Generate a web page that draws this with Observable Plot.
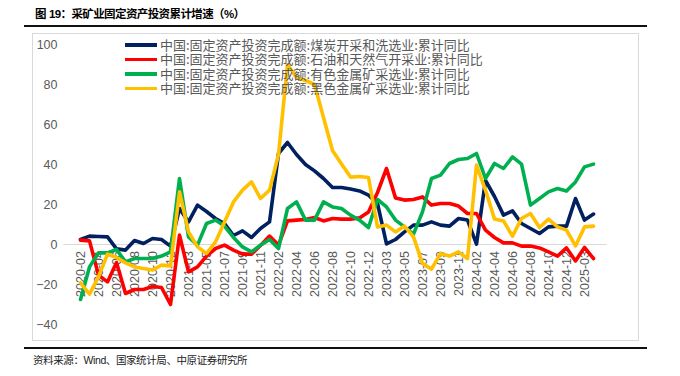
<!DOCTYPE html>
<html><head><meta charset="utf-8">
<script src="https://cdn.jsdelivr.net/npm/d3@7"></script>
<script src="https://cdn.jsdelivr.net/npm/@observablehq/plot@0.6"></script>
<style>
body{margin:0;background:#fff;width:680px;height:376px;position:relative;overflow:hidden;font-family:"Liberation Sans","Noto Sans CJK SC",sans-serif;}
#title{position:absolute;left:35px;top:6px;font-size:11.5px;letter-spacing:-0.6px;font-weight:bold;color:#000;white-space:nowrap;line-height:16px;}
.rule{position:absolute;left:24px;width:623px;height:2px;background:#111;}
#frame{position:absolute;left:32px;top:33px;width:605px;height:306px;border:1px solid #d9d9d9;}
#chart{position:absolute;left:32px;top:33px;}
#legend{position:absolute;left:125px;top:37.5px;font-family:"Noto Sans CJK SC",sans-serif;font-size:13px;color:#595959;}
.row{display:flex;align-items:center;height:14.6px;white-space:nowrap;}
.sw{width:32px;height:3.5px;margin-right:3px;flex:none;}
.tx{display:inline-block;height:14.6px;line-height:14.6px;overflow:visible;}
#source{position:absolute;left:33px;top:353px;font-size:10.5px;letter-spacing:-0.4px;color:#222;white-space:nowrap;line-height:15px;}
</style></head><body>
<div id="title">图<span style="margin-left:3px">19</span>：采矿业固定资产投资累计增速（%）</div>
<div class="rule" style="top:25px"></div>
<div id="frame"></div>
<div id="chart"></div>
<div id="legend"></div>
<div class="rule" style="top:347px"></div>
<div id="source">资料来源：Wind、国家统计局、中原证券研究所</div>
<script>
const dates = [
"2020-02","2020-03","2020-04","2020-05","2020-06","2020-07","2020-08","2020-09","2020-10","2020-11","2020-12",
"2021-02","2021-03","2021-04","2021-05","2021-06","2021-07","2021-08","2021-09","2021-10","2021-11","2021-12",
"2022-02","2022-03","2022-04","2022-05","2022-06","2022-07","2022-08","2022-09","2022-10","2022-11","2022-12",
"2023-02","2023-03","2023-04","2023-05","2023-06","2023-07","2023-08","2023-09","2023-10","2023-11","2023-12",
"2024-02","2024-03","2024-04","2024-05","2024-06","2024-07","2024-08","2024-09","2024-10","2024-11","2024-12",
"2025-02","2025-03","2025-04"];
const xTickLabels = ["2020-02","2020-04","2020-06","2020-08","2020-10","2020-12","2021-03","2021-05","2021-07","2021-09","2021-11",
"2022-02","2022-04","2022-06","2022-08","2022-10","2022-12","2023-03","2023-05","2023-07","2023-09","2023-11",
"2024-02","2024-04","2024-06","2024-08","2024-10","2024-12","2025-03"];
const yTicks = [-40,-20,0,20,40,60,80,100];

const coal = [2.5,4.2,4.0,3.8,-2.2,-2.8,2.0,0.5,3.0,2.5,-0.8,
18,11.3,19.7,16.5,13,10.5,4.5,6.8,3.5,8,11.3,
45.5,51,45,40,36.8,33,28.5,28.5,27.7,26.8,24.7,
20.5,0.3,2.5,6.3,9.7,9.7,11.3,9.7,9.2,13,12.2,
0.2,32,24,14.7,16.8,10.5,8,5.5,8.8,9.2,9.2,
23,12.2,15.2];
const oilGas = [2.2,1.8,-15.3,-18.7,-9,-24.5,-22.5,-22.5,-21,-21.5,-30,
4.7,-13.7,-11.2,-5.8,-2,-0.3,-2.8,-4.8,-4.8,-0.5,4.2,
-0.3,11.8,12.2,12.5,13.5,11.8,13,12.7,12.7,13.3,16.3,
26,38,23.3,22.2,22.5,23.8,19.7,20.5,20.5,19.2,15.5,
15.5,7.2,3.5,0.8,0.8,-0.8,-0.8,-1.7,-3.7,-5.8,-1.7,
-8.2,-1.5,-7];
const nonFerrous = [-27.5,-11.2,-4.2,-4.2,-2.5,-8.7,-7,-7,-7,-5.8,-3.7,
33,3.8,-0.3,10.5,12.2,9.2,3.5,-1.2,-3.7,-0.3,2.5,
-2,18,21.3,12.2,12.2,21.3,18.8,18,14.7,12.2,8.5,
22.5,18.8,12.2,8.8,5.2,16.3,33,34.7,40.5,42.5,43,
45.5,33,40.5,38,43.8,40.2,19.7,23,26.3,28,26.7,
31.3,38.8,40.2];
const ferrous = [-19.2,-24.8,-16.2,-4.8,-6.5,-9.2,-11.2,-12,-12.8,-10.3,-10.7,
26.3,6.3,-1.2,-4.5,1.3,11.3,21.3,27.2,31.3,23,27.2,
45,90,83.5,82,80,63.5,47,40.3,33.7,34,33.5,
8.8,9.7,6.3,9.2,3.8,-9.5,-12.3,-4.5,-5.8,-3.7,-7,
39.7,27.2,12.7,11.8,4.2,13,15.5,8.5,12.7,8.8,7.2,
-0.7,8.8,9.2];

const seriesNames = [
"中国:固定资产投资完成额:煤炭开采和洗选业:累计同比",
"中国:固定资产投资完成额:石油和天然气开采业:累计同比",
"中国:固定资产投资完成额:有色金属矿采选业:累计同比",
"中国:固定资产投资完成额:黑色金属矿采选业:累计同比"];
const seriesValues = [coal, oilGas, nonFerrous, ferrous];
const colors = ["#002060","#FF0000","#00B050","#FFC000"];

const lineMarks = seriesValues.map((vals, k) =>
  Plot.line(dates.map((d, i) => ({date: d, value: vals[i]})), {
    x: "date", y: "value", stroke: colors[k], strokeWidth: 3.6,
    strokeLinejoin: "round", strokeLinecap: "round"
  }));

const chart = Plot.plot({
  width: 607, height: 308,
  marginLeft: 38.5, marginRight: 37, marginTop: 11, marginBottom: 17,
  style: {fontFamily: "Liberation Sans, sans-serif", fontSize: "12px", color: "#595959", background: "transparent", overflow: "visible"},
  x: {type: "point", domain: dates, axis: null},
  y: {domain: [-40, 100], axis: null},
  marks: [
    Plot.axisY({ticks: yTicks, tickSize: 0, tickPadding: 13.5, label: null, fontSize: 12.5}),
    Plot.ruleY([0], {stroke: "#d9d9d9", strokeWidth: 1.2, insetLeft: -7, insetRight: -4.5}),
    Plot.text(xTickLabels, {x: d => d, y: d => 0, rotate: -90, textAnchor: "end", dy: 6.5, fontSize: 12.5, fill: "#595959"}),
    ...lineMarks
  ]
});
document.getElementById("chart").appendChild(chart);

const legend = document.getElementById("legend");
seriesNames.forEach((name, k) => {
  const row = document.createElement("div");
  row.className = "row";
  const sw = document.createElement("span");
  sw.className = "sw";
  sw.style.background = colors[k];
  const tx = document.createElement("span");
  tx.className = "tx";
  tx.textContent = name;
  row.appendChild(sw); row.appendChild(tx);
  legend.appendChild(row);
});
</script>
</body></html>
